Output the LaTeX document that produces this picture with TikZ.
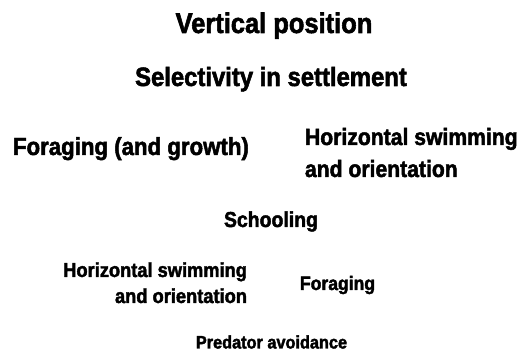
\documentclass[tikz,border=0pt]{standalone}
\usepackage{fontspec}
\newfontfamily\cf{Liberation Sans}[FakeStretch=0.9,FakeBold=2]
\tikzset{
  lbl/.style={inner sep=0pt, outer sep=0pt, text=black},
  fs/.style={font=\cf\bfseries\fontsize{#1}{#1}\selectfont}
}
\begin{document}
\begin{tikzpicture}[x=1pt,y=-1pt]
\useasboundingbox[fill=white] (0,0) rectangle (531,352);
\node[lbl, fs=28.3, anchor=base] (vert) at (274,33) {Vertical position};
\node[lbl, fs=26.5, anchor=base] (sel) at (271,86) {Selectivity in settlement};
\node[lbl, fs=24.7, anchor=base west] (forg) at (13,155) {Foraging (and growth)};
\node[lbl, font=\cf\bfseries\fontsize{23.5}{32}\selectfont, align=left, anchor=base west] (hor1) at (305,177) {Horizontal swimming\\and orientation};
\node[lbl, fs=21.6, anchor=base] (school) at (271,227) {Schooling};
\node[lbl, font=\cf\bfseries\fontsize{20.3}{26}\selectfont, align=right, anchor=base east] (hor2) at (247,303) {Horizontal swimming\\and orientation};
\node[lbl, fs=19.5, anchor=base west] (for2) at (300,290) {Foraging};
\node[lbl, fs=18.1, anchor=base] (pred) at (271.5,348.5) {Predator avoidance};
\end{tikzpicture}
\end{document}
